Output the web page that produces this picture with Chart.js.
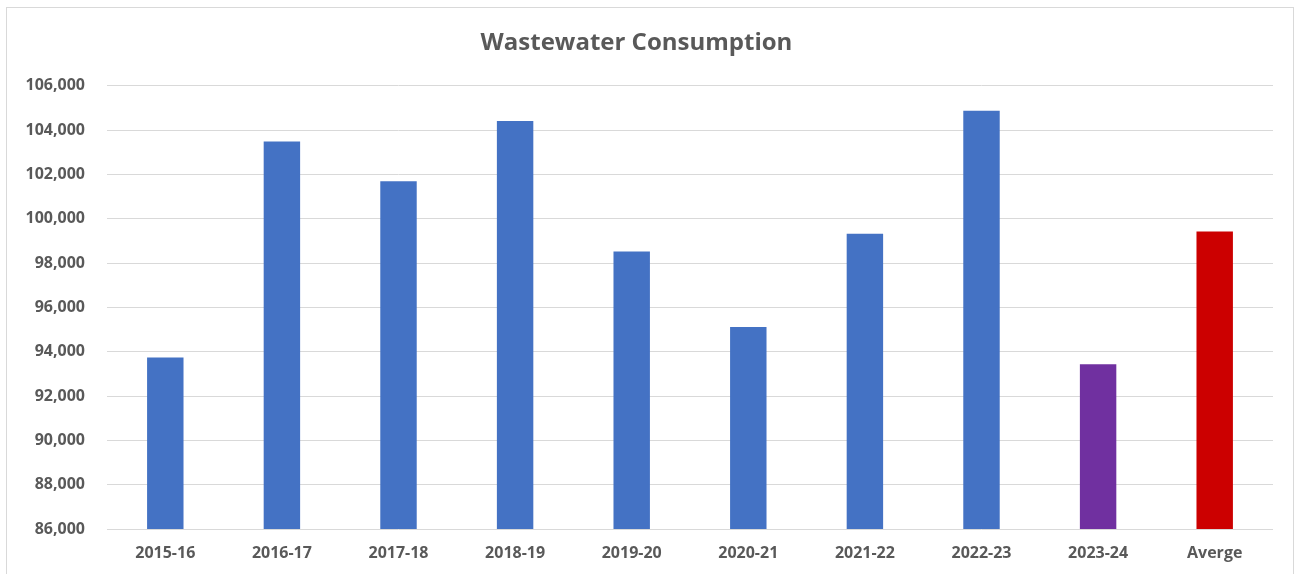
<!DOCTYPE html>
<html>
<head>
<meta charset="utf-8">
<script src="https://cdn.jsdelivr.net/npm/chart.js@4"></script>
<style>
    html, body { margin: 0; padding: 0; background: #fff; }
    #wrap { position: relative; width: 1296px; height: 574px; }
    #frame { position: absolute; left: 6px; top: 7px; width: 1286px; height: 580px; border: 1px solid #d9d9d9; pointer-events: none; }
</style>
</head>
<body>
<div id="wrap">
    <canvas id="waste-chart" width="1296" height="574"></canvas>
    <div id="frame"></div>
</div>
<script>
const categories = ['2015-16', '2016-17', '2017-18', '2018-19', '2019-20', '2020-21', '2021-22', '2022-23', '2023-24', 'Averge'];
const consumption = [93740, 103490, 101690, 104410, 98520, 95120, 99320, 104870, 93430, 99430];
const barColors = ['#4472C4', '#4472C4', '#4472C4', '#4472C4', '#4472C4', '#4472C4', '#4472C4', '#4472C4', '#7030A0', '#CC0000'];
const yMin = 86000;
const yMax = 106000;
const yStep = 2000;

const textColor = '#595959';
const fontFamily = '"Open Sans", "Liberation Sans", sans-serif';

new Chart(document.getElementById('waste-chart'), {
    type: 'bar',
    data: {
        labels: categories,
        datasets: [{
            label: 'Wastewater Consumption',
            data: consumption,
            backgroundColor: barColors,
            barPercentage: 0.3125,
            categoryPercentage: 1
        }]
    },
    options: {
        responsive: false,
        animation: false,
        layout: { padding: { left: 0, right: 23, top: 0, bottom: 12 } },
        plugins: {
            legend: { display: false },
            tooltip: { enabled: false },
            title: {
                display: true,
                text: 'Wastewater Consumption',
                color: textColor,
                font: { family: fontFamily, size: 24, weight: 'bold' },
                padding: { top: 29, bottom: 28 }
            }
        },
        scales: {
            x: {
                grid: { display: false, drawTicks: false },
                border: { display: false },
                ticks: {
                    color: textColor,
                    padding: 15,
                    font: { family: fontFamily, size: 16, weight: 'bold' }
                },
                afterFit: scale => { scale.height = 33; }
            },
            y: {
                min: yMin,
                max: yMax,
                grid: { color: '#d9d9d9', lineWidth: 1, drawTicks: false },
                border: { display: false },
                ticks: {
                    stepSize: yStep,
                    color: textColor,
                    padding: 22,
                    font: { family: fontFamily, size: 16, weight: 'bold' },
                    callback: v => v.toLocaleString('en-US')
                },
                afterFit: scale => { scale.width = 107; }
            }
        }
    }
});
</script>
</body>
</html>
